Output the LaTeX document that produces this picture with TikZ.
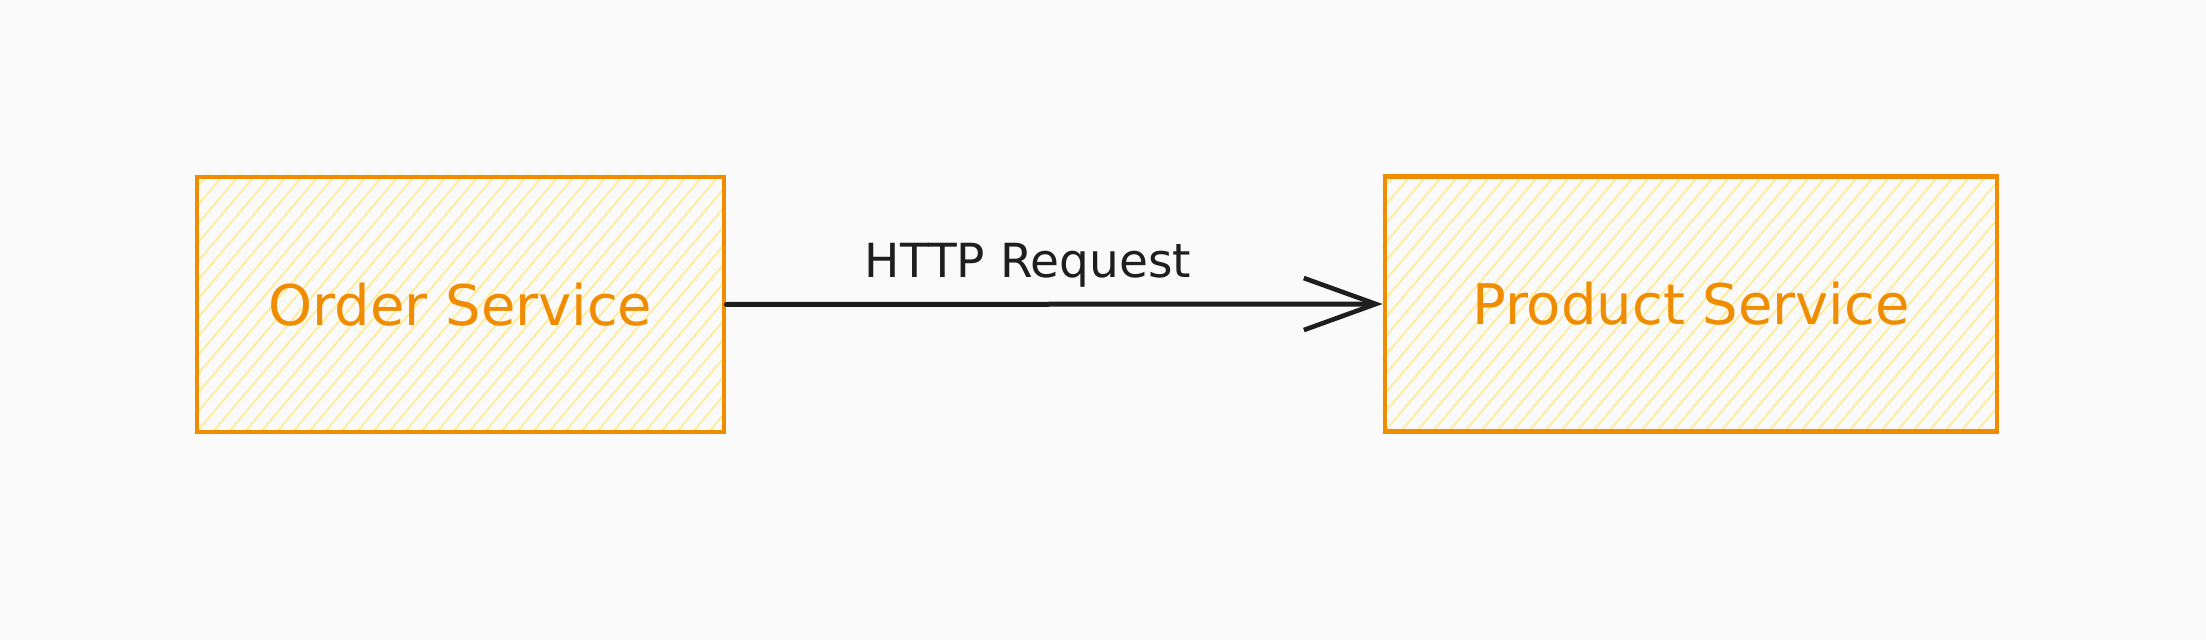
\documentclass[tikz,border=0pt]{standalone}
\usepackage{xcolor}
\usepackage{fontspec}
\setmainfont{DejaVu Sans}
\usepackage{tikz}
\usetikzlibrary{arrows.meta, positioning, calc}
\definecolor{svcorange}{HTML}{F08C00}
\definecolor{svchatch}{HTML}{FFEC99}
\definecolor{inkblack}{HTML}{1E1E1E}
\definecolor{paperbg}{HTML}{FAFAFA}

\begin{document}
\begin{tikzpicture}[
    x=0.5pt, y=-0.5pt,
    svcbox/.style={rectangle, draw=svcorange, line width=2.4pt, text=svcorange,
        font=\fontsize{28}{34}\selectfont, minimum height=127.5pt, inner sep=0pt},
    hatch/.style={draw=svchatch, line width=0.9pt},
    link/.style={draw=inkblack, line width=2.5pt, line cap=round,
        -{Straight Barb[length=36pt, width=26pt, line width=2.3pt]}},
    lbl/.style={text=inkblack, font=\fontsize{23.5}{28}\selectfont},
]

% Page and background
\fill[paperbg] (0,0) rectangle (2206,640);
\useasboundingbox (0,0) rectangle (2206,640);

% Services
\node[svcbox, minimum width=263.5pt] (order) at (460.5,304.5) {};
\node[svcbox, minimum width=306pt] (product) at (1691,304) {};

% Hachure fill
\begin{scope}
  \clip (order.south west) rectangle (order.north east);
  \foreach \d in {-240,-224,...,540}
    \draw[hatch] (order.south west) ++(\d,0) -- ++(230,-270);
\end{scope}
\begin{scope}
  \clip (product.south west) rectangle (product.north east);
  \foreach \d in {-240,-224,...,620}
    \draw[hatch] (product.south west) ++(\d,0) -- ++(230,-270);
\end{scope}

% Borders and names on top of the fill
\node[svcbox, minimum width=263.5pt] at (order) {Order Service};
\node[svcbox, minimum width=306pt] at (product) {Product Service};

% Request
\draw[link] (order.east) -- (product.west);
\node[lbl, anchor=base] (req) at (1028,278) {HTTP Request};

\end{tikzpicture}
\end{document}
